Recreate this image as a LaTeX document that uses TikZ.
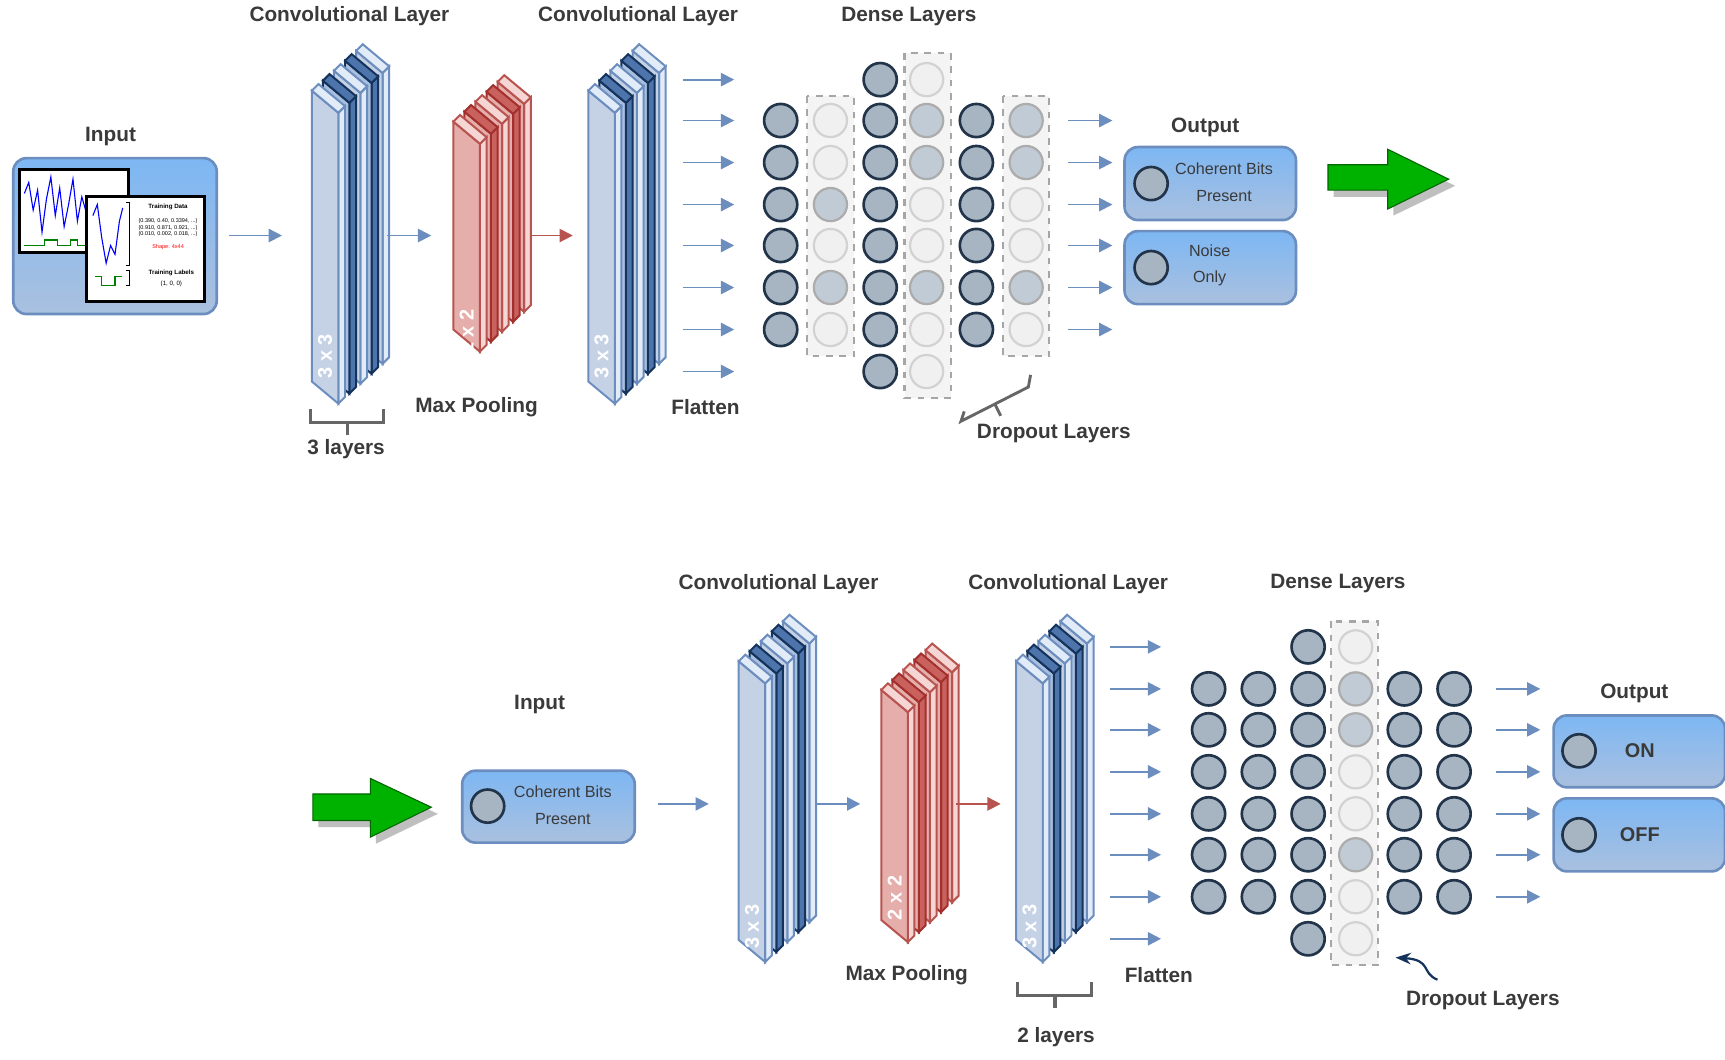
\documentclass[tikz,border=0pt]{standalone}
\usepackage{fontspec}
\setmainfont{Liberation Sans}
\usetikzlibrary{positioning,arrows.meta}
\definecolor{bluel}{HTML}{6C8EBF}
\definecolor{redl}{HTML}{B85450}
\definecolor{txt}{HTML}{3A3A3A}
\definecolor{navy}{HTML}{14335C}
\definecolor{navyside}{HTML}{4D74AB}
\definecolor{navyface}{HTML}{A9BFDF}
\definecolor{lightface}{HTML}{C5D2E6}
\definecolor{lightside}{HTML}{E2ECF8}
\definecolor{redface}{HTML}{E6AEAB}
\definecolor{redside}{HTML}{F6D6D4}
\definecolor{reddark}{HTML}{A3302C}
\definecolor{reddside}{HTML}{C9625E}
\definecolor{boxtop}{HTML}{7DB7F3}
\definecolor{boxbot}{HTML}{AAC0DF}
\definecolor{nfill}{HTML}{A7B5C3}
\definecolor{nline}{HTML}{22344A}
\tikzset{
  lbl/.style={text=txt,font=\bfseries\fontsize{9.4}{11}\selectfont},
  boxtxt/.style={text=txt,font=\fontsize{7.3}{9}\selectfont},
  flow/.style={-{Triangle[length=6pt,width=6pt]},bluel,line width=0.8pt},
  flowred/.style={-{Triangle[length=6pt,width=6pt]},redl,line width=0.8pt},
  outbox/.style={draw=bluel,line width=1.2pt,rounded corners=6pt,top color=boxtop,bottom color=boxbot},
  neuron/.style={circle,minimum size=15pt,inner sep=0pt,fill=nfill,draw=nline,line width=1.2pt},
  drop/.style={circle,minimum size=15pt,inner sep=0pt,fill=gray!12,draw=gray!35,line width=1pt},
  dropon/.style={circle,minimum size=15pt,inner sep=0pt,fill=nfill!70,draw=gray!65,line width=1pt},
  dropbox/.style={draw=gray!70,dashed,line width=1pt,fill=blue!3!gray!8},
  bigarrow/.style={fill=green!70!black,draw=green!40!black,line width=0.5pt},
  ksize/.style={rotate=90,text=white,font=\bfseries\fontsize{9}{10}\selectfont},
}
% one slab of a layer stack: x, top, bottom, face, side, line
\newcommand{\slab}[6]{%
  \filldraw[fill=#5,draw=#6,line width=0.9pt] (#1+24,#2+20) -- (#1+30,#2+14) -- (#1+30,#3+14) -- (#1+24,#3+20) -- cycle;
  \filldraw[fill=#4,draw=#6,line width=0.9pt] (#1,#2) -- (#1+24,#2+20) -- (#1+24,#3+20) -- (#1,#3) -- cycle;
  \filldraw[fill=#5,draw=#6,line width=0.9pt] (#1,#2) -- (#1+6,#2-6) -- (#1+30,#2+14) -- (#1+24,#2+20) -- cycle;}
% stack of five blue slabs
\newcommand{\convstack}[3]{%
  \foreach \i in {4,3,2,1,0}{%
    \pgfmathsetmacro\sx{#1+10*\i}\pgfmathsetmacro\st{#2-9*\i}\pgfmathsetmacro\sb{#3-9*\i}%
    \ifodd\i \slab{\sx}{\st}{\sb}{navyface}{navyside}{navy}%
    \else \slab{\sx}{\st}{\sb}{lightface}{lightside}{bluel}\fi}}
% stack of five red slabs
\newcommand{\poolstack}[3]{%
  \foreach \i in {4,3,2,1,0}{%
    \pgfmathsetmacro\sx{#1+10*\i}\pgfmathsetmacro\st{#2-9*\i}\pgfmathsetmacro\sb{#3-9*\i}%
    \ifodd\i \slab{\sx}{\st}{\sb}{redface}{reddside}{reddark}%
    \else \slab{\sx}{\st}{\sb}{redface}{redside}{redl}\fi}}
\begin{document}
\begin{tikzpicture}[x=0.5pt,y=-0.5pt]
\useasboundingbox (0,0) rectangle (1560,958);

%% ---------- top network ----------
\node[lbl] (inT) at (100,123) {Input};
\draw[outbox] (12,143) rectangle (196,284);
\filldraw[fill=white,draw=black,line width=1.4pt] (18,153) rectangle (116,228);
\draw[blue,line width=0.5pt] (22,175) -- (26,165) -- (30,190) -- (34,172) -- (38,210) -- (42,180) -- (46,160) -- (50,195) -- (54,170) -- (58,205) -- (62,185) -- (66,162) -- (70,200) -- (74,178) -- (78,192);
\draw[green!50!black,line width=0.5pt] (22,222) -- (40,222) -- (40,217) -- (52,217) -- (52,222) -- (64,222) -- (64,217) -- (70,217) -- (70,222) -- (78,222);
\filldraw[fill=white,draw=black,line width=1.4pt] (78,178) rectangle (185,273);
\draw[blue,line width=0.5pt] (84,195) -- (88,185) -- (92,215) -- (96,238) -- (100,222) -- (104,230) -- (108,200) -- (111,188);
\draw[green!50!black,line width=0.5pt] (86,250) -- (92,250) -- (92,258) -- (104,258) -- (104,250) -- (110,250);
\draw[line width=0.4pt] (114,183) -- (117,183) -- (117,240) -- (114,240) (114,245) -- (117,245) -- (117,258) -- (114,258);
\node[font=\fontsize{2.8}{3}\selectfont\bfseries] (tdata) at (152,187) {Training Data};
\node[font=\fontsize{2.5}{3}\selectfont,align=center] (tvals) at (152,206) {(0.390, 0.40, 0.3394, ...)\\(0.910, 0.871, 0.921, ...)\\(0.010, 0.002, 0.018, ...)};
\node[font=\fontsize{2.5}{3}\selectfont,red] (tshape) at (152,223) {Shape: 4x44};
\node[font=\fontsize{2.8}{3}\selectfont\bfseries] (tlab) at (155,247) {Training Labels};
\node[font=\fontsize{2.8}{3}\selectfont] (tlv) at (155,257) {(1, 0, 0)};
\draw[flow] (207,213) -- (255,213);

\node[lbl] (c1T) at (316,15) {Convolutional Layer};
\convstack{282}{82}{345}
\node[ksize] (k1T) at (294,322) {3 x 3};
\draw[gray!80!black,line width=1.5pt] (281,370) -- (281,382) -- (347,382) -- (347,370) (314,382) -- (314,393);
\node[lbl] (l3) at (313,406) {3 layers};
\draw[flow] (350,213) -- (390,213);

\poolstack{410}{110}{298}
\node[ksize] (k2T) at (422,300) {2 x 2};
\node[lbl] (mpT) at (431,368) {Max Pooling};
\draw[flowred] (480,213) -- (518,213);

\node[lbl] (c2T) at (577,15) {Convolutional Layer};
\convstack{532}{82}{345}
\node[ksize] (k3T) at (544,322) {3 x 3};
\node[lbl] (flT) at (638,368) {Flatten};
\foreach \y in {72,109,147,185,222,260,298,336} \draw[flow] (618,\y) -- (664,\y);

\node[lbl] (dlT) at (822,15) {Dense Layers};
\draw[dropbox] (730,87) rectangle (772,322);
\draw[dropbox] (818,48) rectangle (860,360);
\draw[dropbox] (907,87) rectangle (949,322);
\foreach \y in {109,147,185,222,260,298} {\node[neuron] at (706,\y) {}; \node[neuron] at (883,\y) {};}
\foreach \y in {72,109,147,185,222,260,298,336} \node[neuron] at (796,\y) {};
\foreach \y/\s in {109/drop,147/drop,185/dropon,222/drop,260/dropon,298/drop} \node[\s] at (751,\y) {};
\foreach \y/\s in {72/drop,109/dropon,147/dropon,185/drop,222/drop,260/dropon,298/drop,336/drop} \node[\s] at (838,\y) {};
\foreach \y/\s in {109/dropon,147/dropon,185/drop,222/drop,260/dropon,298/drop} \node[\s] at (928,\y) {};
\draw[gray!80!black,line width=1.3pt] (872,372) -- (869,381) -- (930,350) -- (932,339) (900,366) -- (905,376);
\node[lbl] (dropT) at (953,392) {Dropout Layers};
\foreach \y in {109,147,185,222,260,298} \draw[flow] (966,\y) -- (1006,\y);

\node[lbl] (outT) at (1090,115) {Output};
\draw[outbox] (1017,133) rectangle (1172,199);
\node[neuron] (o1) at (1041,166) {};
\node[boxtxt,align=center] (o1t) at (1107,165) {Coherent Bits\\[3pt]Present};
\draw[outbox] (1017,209) rectangle (1172,275);
\node[neuron] (o2) at (1041,242) {};
\node[boxtxt,align=center] (o2t) at (1094,240) {Noise\\[3pt]Only};

\fill[gray!50] (1206,155) -- (1260,155) -- (1260,141) -- (1316,168) -- (1260,195) -- (1260,178) -- (1206,178) -- cycle;
\filldraw[bigarrow] (1201,149) -- (1255,149) -- (1255,135) -- (1310,162) -- (1255,189) -- (1255,172) -- (1201,172) -- cycle;

%% ---------- bottom network ----------
\fill[gray!50] (288,724) -- (340,724) -- (340,710) -- (396,736) -- (340,763) -- (340,748) -- (288,748) -- cycle;
\filldraw[bigarrow] (283,718) -- (335,718) -- (335,704) -- (390,730) -- (335,757) -- (335,742) -- (283,742) -- cycle;

\node[lbl] (inB) at (488,637) {Input};
\draw[outbox] (418,697) rectangle (574,762);
\node[neuron] (i1) at (441,729) {};
\node[boxtxt,align=center] (i1t) at (509,728) {Coherent Bits\\[3pt]Present};
\draw[flow] (595,727) -- (641,727);

\node[lbl] (c1B) at (704,528) {Convolutional Layer};
\convstack{668}{598}{850}
\node[ksize] (k1B) at (680,838) {3 x 3};
\draw[flow] (738,727) -- (778,727);

\poolstack{797}{624}{832}
\node[ksize] (k2B) at (809,812) {2 x 2};
\node[lbl] (mpB) at (820,882) {Max Pooling};
\draw[flowred] (865,727) -- (905,727);

\node[lbl] (c2B) at (966,528) {Convolutional Layer};
\convstack{919}{598}{850}
\node[ksize] (k3B) at (931,838) {3 x 3};
\draw[gray!80!black,line width=1.5pt] (920,888) -- (920,900) -- (987,900) -- (987,888) (954,900) -- (954,912);
\node[lbl] (l2) at (955,938) {2 layers};
\node[lbl] (flB) at (1048,882) {Flatten};
\foreach \y in {585,623,660,698,736,773,811,849} \draw[flow] (1004,\y) -- (1050,\y);

\node[lbl] (dlB) at (1210,528) {Dense Layers};
\draw[dropbox] (1204,562) rectangle (1246,873);
\foreach \y in {623,660,698,736,773,811} \foreach \x in {1093,1138,1270,1315} \node[neuron] at (\x,\y) {};
\foreach \y in {585,623,660,698,736,773,811,849} \node[neuron] at (1183,\y) {};
\foreach \y/\s in {585/drop,623/dropon,660/dropon,698/drop,736/drop,773/dropon,811/drop,849/drop} \node[\s] at (1226,\y) {};
\foreach \y in {623,660,698,736,773,811} \draw[flow] (1353,\y) -- (1393,\y);
\node[lbl] (dropB) at (1341,905) {Dropout Layers};
\coordinate (dtail) at (1300,886);
\draw[-{Stealth[length=7pt]},navy,line width=1pt] (dtail) .. controls (1285,880) and (1295,868) .. (1262,866);

\node[lbl] (outB) at (1478,627) {Output};
\draw[outbox] (1405,647) rectangle (1560,712);
\node[neuron] (on) at (1428,679) {};
\node[lbl,font=\bfseries\fontsize{9}{11}\selectfont] (ont) at (1483,679) {ON};
\draw[outbox] (1405,722) rectangle (1560,788);
\node[neuron] (off) at (1428,755) {};
\node[lbl,font=\bfseries\fontsize{9}{11}\selectfont] (offt) at (1483,755) {OFF};
\end{tikzpicture}
\end{document}
